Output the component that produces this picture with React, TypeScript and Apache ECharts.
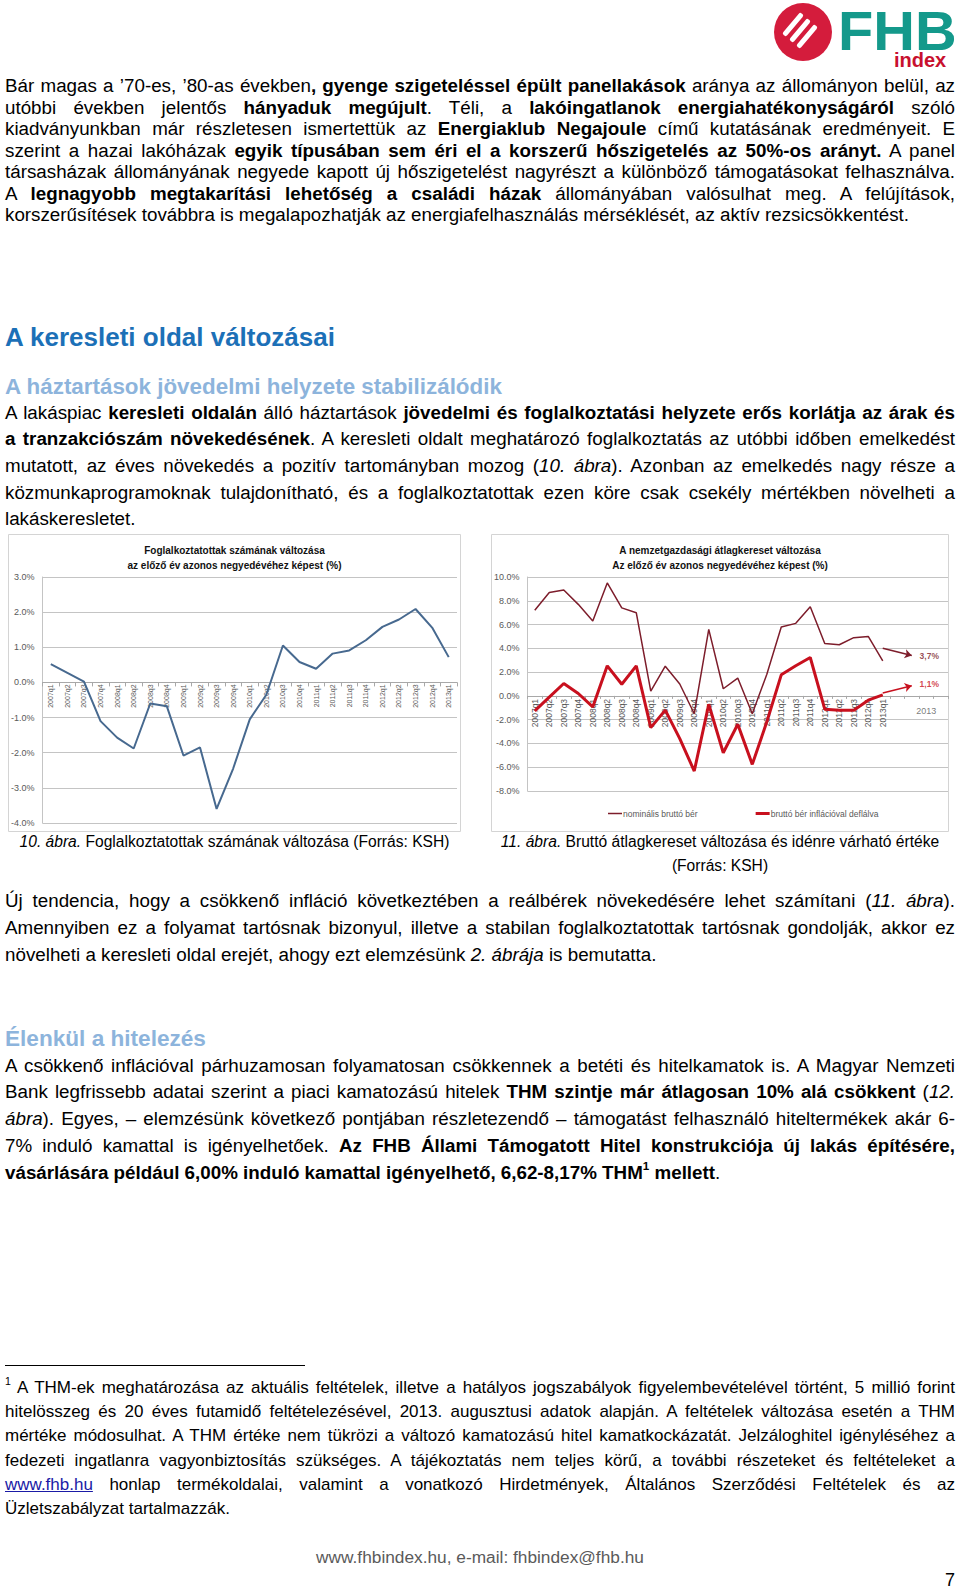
import React, { useEffect, useRef } from "react";
import * as echarts from "echarts";

const FONT = '"Liberation Sans", Arial, Helvetica, sans-serif';

// ---------- 10. ábra data ----------
const quarters = [
  "2007q1", "2007q2", "2007q3", "2007q4", "2008q1", "2008q2", "2008q3", "2008q4",
  "2009q1", "2009q2", "2009q3", "2009q4", "2010q1", "2010q2", "2010q3", "2010q4",
  "2011q1", "2011q2", "2011q3", "2011q4", "2012q1", "2012q2", "2012q3", "2012q4", "2013q1",
];
const employmentChange = [
  0.52, 0.27, 0.02, -1.1, -1.57, -1.88, -0.6, -0.68, -2.08, -1.85, -3.6, -2.45,
  -1.05, -0.35, 1.05, 0.58, 0.39, 0.82, 0.91, 1.2, 1.58, 1.79, 2.09, 1.56, 0.72,
];
const employmentMin = -4;
const employmentMax = 3;
const employmentStep = 1;
const employmentTitle = "Foglalkoztatottak számának változása\naz előző év azonos negyedévéhez képest (%)";

// ---------- 11. ábra data ----------
const wageExtraSlots = [" ", "  ", "2013", "   "];
const annualLabel = "2013";
const nominalWage = [
  7.2, 8.7, 8.9, 7.7, 6.3, 9.5, 7.4, 7.0, 0.4, 2.5, 1.0, -1.5, 5.6, 0.6, 1.5, -1.5,
  1.8, 5.8, 6.1, 7.5, 4.4, 4.3, 4.9, 5.0, 2.95,
];
const realWage = [
  -1.26, -0.1, 1.04, 0.2, -0.93, 2.53, 0.98, 2.53, -2.67, -1.2, -3.6, -6.32, -0.7,
  -4.78, -2.39, -5.76, -2.2, 1.77, 2.53, 3.23, -1.12, -1.2, -1.2, -0.36, 0.08,
];
const wageSeriesNames = ["nominális bruttó bér", "bruttó bér inflációval deflálva"];
const forecastValues = [3.7, 1.1];
const forecastLabels = ["3,7%", "1,1%"];
const arrowStartValues = [4.0, 0.25];
const arrowEndValues = [3.4, 0.85];
const wageMin = -8;
const wageMax = 10;
const wageStep = 2;
const wageTitle = "A nemzetgazdasági átlagkereset változása\nAz előző év azonos negyedévéhez képest (%)";

const MAROON = "#7d1d2b";
const RED = "#c8101e";
const GRID = "#c4c4c4";
const LABEL = "#595959";

// ---------- text helpers ----------
type Seg = { t: string; b?: boolean; i?: boolean; u?: boolean; sup?: boolean };
const n = (t: string): Seg => ({ t });
const b = (t: string): Seg => ({ t, b: true });
const it = (t: string): Seg => ({ t, i: true });
const u = (t: string): Seg => ({ t, u: true });
const sup = (t: string, bold = false): Seg => ({ t, sup: true, b: bold });

function Run({ s }: { s: Seg }) {
  const st: React.CSSProperties = {};
  if (s.b) st.fontWeight = "bold";
  if (s.i) st.fontStyle = "italic";
  if (s.u) {
    st.textDecoration = "underline";
    st.color = "#1a1aa6";
  }
  if (s.sup) {
    st.fontSize = "0.62em";
    st.position = "relative";
    st.top = "-0.75em";
    st.lineHeight = "0";
  }
  return <span style={st}>{s.t}</span>;
}

function TextLine(props: {
  y: number; segs: Seg[]; size: number; lh: number; align?: string;
  x?: number; w?: number; color?: string; weight?: string;
}) {
  const { y, segs, size, lh, align = "justify", x = 5, w = 950, color = "#000", weight } = props;
  return (
    <div
      style={{
        position: "absolute", left: x, top: y - lh / 2, width: w, height: lh,
        lineHeight: lh + "px", fontSize: size, whiteSpace: "nowrap",
        textAlign: align as any, textAlignLast: align as any, color, fontWeight: weight as any,
      }}
    >
      {segs.map((s, k) => <Run key={k} s={s} />)}
    </div>
  );
}

function Para(props: { y0: number; pitch: number; lines: Seg[][]; size: number }) {
  const { y0, pitch, lines, size } = props;
  return (
    <>
      {lines.map((segs, k) => (
        <TextLine key={k} y={y0 + k * pitch} segs={segs} size={size} lh={pitch}
          align={k === lines.length - 1 ? "left" : "justify"} />
      ))}
    </>
  );
}

const para1: Seg[][] = [
  [n("Bár magas a ’70-es, ’80-as években"), b(", gyenge szigeteléssel épült panellakások"), n(" aránya az állományon belül, az")],
  [n("utóbbi években jelentős "), b("hányaduk megújult"), n(". Téli, a "), b("lakóingatlanok energiahatékonyságáról"), n(" szóló")],
  [n("kiadványunkban már részletesen ismertettük az "), b("Energiaklub Negajoule"), n(" című kutatásának eredményeit. E")],
  [n("szerint a hazai lakóházak "), b("egyik típusában sem éri el a korszerű hőszigetelés az 50%-os arányt."), n(" A panel")],
  [n("társasházak állományának negyede kapott új hőszigetelést nagyrészt a különböző támogatásokat felhasználva.")],
  [n("A "), b("legnagyobb megtakarítási lehetőség a családi házak"), n(" állományában valósulhat meg. A felújítások,")],
  [n("korszerűsítések továbbra is megalapozhatják az energiafelhasználás mérséklését, az aktív rezsicsökkentést.")],
];

const para2: Seg[][] = [
  [n("A lakáspiac "), b("keresleti oldalán"), n(" álló háztartások "), b("jövedelmi és foglalkoztatási helyzete erős korlátja az árak és")],
  [b("a tranzakciószám növekedésének"), n(". A keresleti oldalt meghatározó foglalkoztatás az utóbbi időben emelkedést")],
  [n("mutatott, az éves növekedés a pozitív tartományban mozog ("), it("10. ábra"), n("). Azonban az emelkedés nagy része a")],
  [n("közmunkaprogramoknak tulajdonítható, és a foglalkoztatottak ezen köre csak csekély mértékben növelheti a")],
  [n("lakáskeresletet.")],
];

const para3: Seg[][] = [
  [n("Új tendencia, hogy a csökkenő infláció következtében a reálbérek növekedésére lehet számítani ("), it("11. ábra"), n(").")],
  [n("Amennyiben ez a folyamat tartósnak bizonyul, illetve a stabilan foglalkoztatottak tartósnak gondolják, akkor ez")],
  [n("növelheti a keresleti oldal erejét, ahogy ezt elemzésünk "), it("2. ábrája"), n(" is bemutatta.")],
];

const para4: Seg[][] = [
  [n("A csökkenő inflációval párhuzamosan folyamatosan csökkennek a betéti és hitelkamatok is. A Magyar Nemzeti")],
  [n("Bank legfrissebb adatai szerint a piaci kamatozású hitelek "), b("THM szintje már átlagosan 10% alá csökkent"), n(" ("), it("12.")],
  [it("ábra"), n("). Egyes, – elemzésünk következő pontjában részletezendő – támogatást felhasználó hiteltermékek akár 6-")],
  [n("7% induló kamattal is igényelhetőek. "), b("Az FHB Állami Támogatott Hitel konstrukciója új lakás építésére,")],
  [b("vásárlására például 6,00% induló kamattal igényelhető, 6,62-8,17% THM"), sup("1", true), b(" mellett"), n(".")],
];

const footnote: Seg[][] = [
  [sup("1"), n(" A THM-ek meghatározása az aktuális feltételek, illetve a hatályos jogszabályok figyelembevételével történt, 5 millió forint")],
  [n("hitelösszeg és 20 éves futamidő feltételezésével, 2013. augusztusi adatok alapján. A feltételek változása esetén a THM")],
  [n("mértéke módosulhat. A THM értéke nem tükrözi a változó kamatozású hitel kamatkockázatát. Jelzáloghitel igényléséhez a")],
  [n("fedezeti ingatlanra vagyonbiztosítás szükséges. A tájékoztatás nem teljes körű, a további részeteket és feltételeket a")],
  [u("www.fhb.hu"), n(" honlap termékoldalai, valamint a vonatkozó Hirdetmények, Általános Szerződési Feltételek és az")],
  [n("Üzletszabályzat tartalmazzák.")],
];

function frame(w: number, h: number) {
  return [{
    type: "rect", silent: true, z: -10,
    shape: { x: 0.5, y: 0.5, width: w - 1, height: h - 1 },
    style: { fill: "none", stroke: "#d4d4d4", lineWidth: 1 },
  }];
}

const pct = (v: number) => v.toFixed(1) + "%";

// distance (px) from the bottom of the grid up to the value 0
const zeroOffset = (min: number, max: number, gridH: number) => -((0 - min) / (max - min)) * gridH;

function employmentOption(w: number, h: number): any {
  const grid = { left: 34, right: 4, top: 43, bottom: 9 };
  const gridH = h - grid.top - grid.bottom;
  return {
    animation: false,
    textStyle: { fontFamily: FONT },
    graphic: frame(w, h),
    title: {
      text: employmentTitle, left: "center", top: 4,
      textStyle: { fontSize: 10, fontWeight: "bold", color: "#111", lineHeight: 15, fontFamily: FONT },
    },
    grid,
    xAxis: {
      type: "category", data: quarters, boundaryGap: true, position: "bottom",
      offset: zeroOffset(employmentMin, employmentMax, gridH),
      axisLine: { onZero: false, lineStyle: { color: "#a8a8a8" } },
      axisTick: { show: true, interval: 0, length: 4, lineStyle: { color: "#a8a8a8" } },
      axisLabel: { rotate: 90, interval: 0, fontSize: 7, color: LABEL, margin: 2, fontFamily: FONT },
    },
    yAxis: {
      type: "value", min: employmentMin, max: employmentMax, interval: employmentStep,
      axisLine: { show: true, lineStyle: { color: GRID } },
      axisTick: { show: false },
      splitLine: { lineStyle: { color: GRID } },
      axisLabel: { formatter: pct, fontSize: 9, color: LABEL, margin: 8, fontFamily: FONT },
    },
    series: [{
      type: "line", data: employmentChange, symbol: "none",
      lineStyle: { color: "#47698f", width: 2 }, emphasis: { disabled: true },
    }],
  };
}

function wageOption(w: number, h: number): any {
  const cats = [...quarters, ...wageExtraSlots];
  const lastQ = quarters.length - 1;
  const target = cats.indexOf(annualLabel);
  const colors = [MAROON, RED];
  const grid = { left: 32, right: 1, top: 43, bottom: 41 };
  const gridH = h - grid.top - grid.bottom;
  return {
    animation: false,
    textStyle: { fontFamily: FONT },
    graphic: frame(w, h),
    title: {
      text: wageTitle, left: "center", top: 4,
      textStyle: { fontSize: 10, fontWeight: "bold", color: "#111", lineHeight: 15, fontFamily: FONT },
    },
    legend: {
      left: 112, top: 270, itemWidth: 14, itemHeight: 8, itemGap: 58,
      data: [
        { name: wageSeriesNames[0], icon: "path://M0,0H14V1.5H0Z" },
        { name: wageSeriesNames[1], icon: "path://M0,0H14V3H0Z" },
      ],
      textStyle: { fontSize: 8.5, color: LABEL, fontFamily: FONT, padding: [0, 0, 0, -4] },
    },
    grid,
    xAxis: {
      type: "category", data: cats, boundaryGap: true, position: "bottom",
      offset: zeroOffset(wageMin, wageMax, gridH),
      axisLine: { onZero: false, lineStyle: { color: "#a8a8a8" } },
      axisTick: { show: true, interval: 0, length: 3, lineStyle: { color: "#a8a8a8" } },
      axisLabel: {
        rotate: 90, interval: 0, fontSize: 8.5, color: LABEL, margin: 3, fontFamily: FONT,
        formatter: (v: string, i: number) => (i < quarters.length ? v : ""),
      },
    },
    yAxis: {
      type: "value", min: wageMin, max: wageMax, interval: wageStep,
      axisLine: { show: true, lineStyle: { color: GRID } },
      axisTick: { show: false },
      splitLine: { lineStyle: { color: GRID } },
      axisLabel: { formatter: pct, fontSize: 9, color: LABEL, margin: 8, fontFamily: FONT },
    },
    series: [
      {
        name: wageSeriesNames[0], type: "line", data: nominalWage, symbol: "none",
        lineStyle: { color: MAROON, width: 1.5 }, itemStyle: { color: MAROON }, emphasis: { disabled: true },
      },
      {
        name: wageSeriesNames[1], type: "line", data: realWage, symbol: "none",
        lineStyle: { color: RED, width: 3 }, itemStyle: { color: RED }, emphasis: { disabled: true },
      },
      {
        type: "scatter", symbolSize: 1, itemStyle: { color: "rgba(0,0,0,0)" }, silent: true,
        emphasis: { disabled: true },
        data: [
          { value: [annualLabel, 0], label: { formatter: annualLabel, position: "bottom", distance: 10, color: LABEL, fontSize: 9 } },
          ...forecastValues.map((v, k) => ({
            value: [annualLabel, v],
            label: {
              formatter: forecastLabels[k], position: "inside", offset: [3, k === 0 ? 4 : 1],
              color: colors[k], fontWeight: "bold", fontSize: 8.5,
            },
          })),
        ],
        label: { show: true, fontFamily: FONT },
        markLine: {
          silent: true, symbol: ["none", "arrow"], symbolSize: 7, animation: false,
          label: { show: false }, emphasis: { disabled: true },
          data: forecastValues.map((_, k) => [
            { coord: [lastQ, arrowStartValues[k]], lineStyle: { color: colors[k], width: 1.5, type: "solid" } },
            { coord: [target - 1, arrowEndValues[k]] },
          ]),
        },
      },
    ],
  };
}

function Logo() {
  const stripes = [-1, 0, 1];
  return (
    <>
      <div style={{ position: "absolute", left: 774, top: 3, width: 58, height: 58, borderRadius: "50%", background: "#d41c3c" }} />
      {stripes.map((k) => {
        const cx = 800 + k * 7, cy = 30 + k * 6, L = 28, T = 5;
        return (
          <div key={k} style={{
            position: "absolute", left: cx - L / 2, top: cy - T / 2, width: L, height: T,
            background: "#fff", borderRadius: 2, transform: "rotate(-50deg)",
          }} />
        );
      })}
      <div style={{
        position: "absolute", left: 838, top: 0, width: 113, height: 62, fontSize: 55, lineHeight: "62px",
        fontWeight: "bold", color: "#14998b", whiteSpace: "nowrap",
        transform: "scaleX(1.05)", transformOrigin: "0 0",
      }}>FHB</div>
      <div style={{
        position: "absolute", left: 894, top: 49, width: 56, height: 23, fontSize: 20, lineHeight: "23px",
        fontWeight: "bold", color: "#c8102e", whiteSpace: "nowrap",
      }}>index</div>
    </>
  );
}

export default function App() {
  const r1 = useRef<HTMLDivElement>(null);
  const r2 = useRef<HTMLDivElement>(null);
  useEffect(() => {
    const c1 = echarts.init(r1.current!, null, { renderer: "svg" });
    const c2 = echarts.init(r2.current!, null, { renderer: "svg" });
    c1.setOption(employmentOption(453, 298));
    c2.setOption(wageOption(458, 298));
    return () => {
      c1.dispose();
      c2.dispose();
    };
  }, []);

  const BODY = 18.8;
  return (
    <div style={{
      position: "absolute", left: 0, top: 0, width: 960, height: 1592, background: "#fff",
      overflow: "hidden", fontFamily: FONT, color: "#000",
    }}>
      <Logo />
      <Para y0={86} pitch={21.5} lines={para1} size={BODY} />
      <TextLine y={337} segs={[n("A keresleti oldal változásai")]} size={26} lh={32} align="left" color="#1c70b7" weight="bold" />
      <TextLine y={387} segs={[n("A háztartások jövedelmi helyzete stabilizálódik")]} size={22.4} lh={28} align="left" color="#8db4dc" weight="bold" />
      <Para y0={413} pitch={26.6} lines={para2} size={BODY} />

      <div ref={r1} style={{ position: "absolute", left: 8, top: 534, width: 453, height: 298 }} />
      <div ref={r2} style={{ position: "absolute", left: 491, top: 534, width: 458, height: 298 }} />

      <TextLine y={842} x={8} w={453} segs={[it("10. ábra."), n(" Foglalkoztatottak számának változása (Forrás: KSH)")]} size={15.6} lh={22} align="center" />
      <TextLine y={842} x={491} w={458} segs={[it("11. ábra."), n(" Bruttó átlagkereset változása és idénre várható értéke")]} size={15.6} lh={22} align="center" />
      <TextLine y={866} x={491} w={458} segs={[n("(Forrás: KSH)")]} size={15.6} lh={22} align="center" />

      <Para y0={900} pitch={27} lines={para3} size={BODY} />
      <TextLine y={1039} segs={[n("Élenkül a hitelezés")]} size={22.6} lh={28} align="left" color="#8db4dc" weight="bold" />
      <Para y0={1066} pitch={26.9} lines={para4} size={BODY} />

      <div style={{ position: "absolute", left: 5, top: 1365, width: 300, height: 1, background: "#000" }} />
      <Para y0={1388} pitch={24.3} lines={footnote} size={17} />

      <TextLine y={1557} x={0} w={960} segs={[n("www.fhbindex.hu, e-mail: fhbindex@fhb.hu")]} size={17.3} lh={22} align="center" color="#5a5a5a" />
      <TextLine y={1580} x={930} w={25} segs={[n("7")]} size={18} lh={22} align="right" />
    </div>
  );
}
